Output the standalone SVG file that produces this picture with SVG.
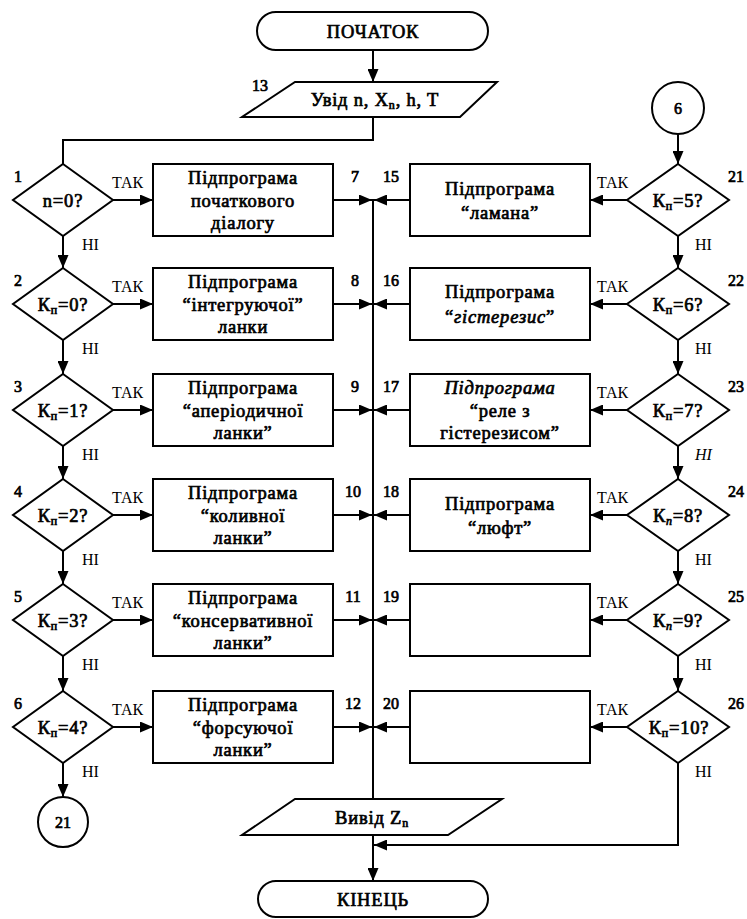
<svg xmlns="http://www.w3.org/2000/svg" width="747" height="919" viewBox="0 0 747 919">
  <defs>
    <marker id="arrow" markerUnits="userSpaceOnUse" markerWidth="13" markerHeight="11" refX="13" refY="5.5" orient="auto">
      <path d="M0,0 L13,5.5 L0,11 z" fill="#000"/>
    </marker>
    <style>
      .shape { fill: #fff; stroke: #000; stroke-width: 2; }
      .line { fill: none; stroke: #000; stroke-width: 2; }
      .arr { fill: none; stroke: #000; stroke-width: 2; marker-end: url(#arrow); }
      text { font-family: "Liberation Serif", "Times New Roman", serif; fill: #000; }
      .heavy text { font-weight: normal; stroke: #000; stroke-width: 0.7px; }
      .t { font-size: 18.5px; text-anchor: middle; letter-spacing: 0.8px; }
      .num { font-size: 16px; text-anchor: middle; }
      .lbl { font-size: 16px; }
      .sub { font-size: 12px; }
    </style>
  </defs>
  <rect width="747" height="919" fill="#fff"/>

  <!-- connectors -->
  <g id="connectors">
    <line class="arr" x1="373" y1="50" x2="373" y2="82"/>
    <polyline class="line" points="373,117 373,140 63,140 63,164"/>
    <!-- collector line -->
    <line class="line" x1="373" y1="199" x2="373" y2="799"/>
    <line class="arr" x1="373" y1="835" x2="373" y2="881"/>
    <!-- left column: decisions to subprograms -->
    <line class="arr" x1="113" y1="200" x2="153" y2="200"/>
    <line class="arr" x1="113" y1="304" x2="153" y2="304"/>
    <line class="arr" x1="113" y1="410" x2="153" y2="410"/>
    <line class="arr" x1="113" y1="515" x2="153" y2="515"/>
    <line class="arr" x1="113" y1="620" x2="153" y2="620"/>
    <line class="arr" x1="113" y1="727" x2="153" y2="727"/>
    <!-- left column: subprograms to collector -->
    <line class="arr" x1="333" y1="200" x2="372" y2="200"/>
    <line class="arr" x1="333" y1="304" x2="372" y2="304"/>
    <line class="arr" x1="333" y1="410" x2="372" y2="410"/>
    <line class="arr" x1="333" y1="515" x2="372" y2="515"/>
    <line class="arr" x1="333" y1="620" x2="372" y2="620"/>
    <line class="arr" x1="333" y1="727" x2="372" y2="727"/>
    <!-- left column: "no" branches -->
    <line class="arr" x1="63" y1="236" x2="63" y2="268"/>
    <line class="arr" x1="63" y1="340" x2="63" y2="374"/>
    <line class="arr" x1="63" y1="446" x2="63" y2="479"/>
    <line class="arr" x1="63" y1="551" x2="63" y2="584"/>
    <line class="arr" x1="63" y1="656" x2="63" y2="691"/>
    <line class="arr" x1="63" y1="763" x2="63" y2="797"/>
    <!-- right column: decisions to subprograms -->
    <line class="arr" x1="627" y1="200" x2="590" y2="200"/>
    <line class="arr" x1="627" y1="304" x2="590" y2="304"/>
    <line class="arr" x1="627" y1="410" x2="590" y2="410"/>
    <line class="arr" x1="627" y1="515" x2="590" y2="515"/>
    <line class="arr" x1="627" y1="620" x2="590" y2="620"/>
    <line class="arr" x1="627" y1="727" x2="590" y2="727"/>
    <!-- right column: subprograms to collector -->
    <line class="arr" x1="410" y1="200" x2="374" y2="200"/>
    <line class="arr" x1="410" y1="304" x2="374" y2="304"/>
    <line class="arr" x1="410" y1="410" x2="374" y2="410"/>
    <line class="arr" x1="410" y1="515" x2="374" y2="515"/>
    <line class="arr" x1="410" y1="620" x2="374" y2="620"/>
    <line class="arr" x1="410" y1="727" x2="374" y2="727"/>
    <!-- right column: "no" branches -->
    <line class="arr" x1="678" y1="134" x2="678" y2="164"/>
    <line class="arr" x1="678" y1="236" x2="678" y2="268"/>
    <line class="arr" x1="678" y1="340" x2="678" y2="374"/>
    <line class="arr" x1="678" y1="446" x2="678" y2="479"/>
    <line class="arr" x1="678" y1="551" x2="678" y2="584"/>
    <line class="arr" x1="678" y1="656" x2="678" y2="691"/>
    <polyline class="arr" points="678,763 678,845 374,845"/>

    <!-- branch labels -->
    <g class="lbl">
      <text x="112" y="188">ТАК</text>
      <text x="112" y="292">ТАК</text>
      <text x="112" y="398">ТАК</text>
      <text x="112" y="503">ТАК</text>
      <text x="112" y="608">ТАК</text>
      <text x="112" y="715">ТАК</text>
      <text x="82" y="250">НІ</text>
      <text x="82" y="354">НІ</text>
      <text x="82" y="460">НІ</text>
      <text x="82" y="565">НІ</text>
      <text x="82" y="670">НІ</text>
      <text x="82" y="777">НІ</text>
      <text x="597" y="188">ТАК</text>
      <text x="597" y="292">ТАК</text>
      <text x="597" y="398">ТАК</text>
      <text x="597" y="503">ТАК</text>
      <text x="597" y="608">ТАК</text>
      <text x="597" y="715">ТАК</text>
      <text x="695" y="250">НІ</text>
      <text x="695" y="354">НІ</text>
      <text x="695" y="460" font-style="italic">НІ</text>
      <text x="695" y="565">НІ</text>
      <text x="695" y="670">НІ</text>
      <text x="695" y="777">НІ</text>
    </g>
  </g>

  <g class="heavy">
  <!-- terminators and I/O -->
  <g id="start">
    <rect class="shape" x="257" y="12" width="231" height="38" rx="19" ry="19"/>
    <text class="t" x="373" y="38">ПОЧАТОК</text>
  </g>
  <g id="input">
    <polygon class="shape" points="295,82 497,82 460,117 242,117"/>
    <text class="num" x="260" y="91">13</text>
    <text class="t" x="375" y="106" letter-spacing="0.5">Увід n, X<tspan class="sub" dy="3">n</tspan><tspan dy="-3">, h, T</tspan></text>
  </g>
  <g id="output">
    <polygon class="shape" points="295,799 502,799 448,835 242,835"/>
    <text class="t" x="372" y="824">Вивід Z<tspan class="sub" dy="3">n</tspan></text>
  </g>
  <g id="end">
    <rect class="shape" x="258" y="881" width="230" height="36" rx="18" ry="18"/>
    <text class="t" x="373" y="906">КІНЕЦЬ</text>
  </g>

  <!-- left column decisions -->
  <g id="d1">
    <polygon class="shape" points="63,164 113,200 63,236 13,200"/>
    <text class="num" x="18" y="182">1</text>
    <text class="t" x="63" y="207">n=0?</text>
  </g>
  <g id="d2">
    <polygon class="shape" points="63,268 113,304 63,340 13,304"/>
    <text class="num" x="18" y="286">2</text>
    <text class="t" x="63" y="311">К<tspan class="sub" dy="3">п</tspan><tspan dy="-3">=0?</tspan></text>
  </g>
  <g id="d3">
    <polygon class="shape" points="63,374 113,410 63,446 13,410"/>
    <text class="num" x="18" y="392">3</text>
    <text class="t" x="63" y="417">К<tspan class="sub" dy="3">п</tspan><tspan dy="-3">=1?</tspan></text>
  </g>
  <g id="d4">
    <polygon class="shape" points="63,479 113,515 63,551 13,515"/>
    <text class="num" x="18" y="497">4</text>
    <text class="t" x="63" y="522">К<tspan class="sub" dy="3">п</tspan><tspan dy="-3">=2?</tspan></text>
  </g>
  <g id="d5">
    <polygon class="shape" points="63,584 113,620 63,656 13,620"/>
    <text class="num" x="18" y="602">5</text>
    <text class="t" x="63" y="627">К<tspan class="sub" dy="3">п</tspan><tspan dy="-3">=3?</tspan></text>
  </g>
  <g id="d6">
    <polygon class="shape" points="63,691 113,727 63,763 13,727"/>
    <text class="num" x="18" y="709">6</text>
    <text class="t" x="63" y="734">К<tspan class="sub" dy="3">п</tspan><tspan dy="-3">=4?</tspan></text>
  </g>
  <g id="c21">
    <circle class="shape" cx="63" cy="822" r="25"/>
    <text class="num" x="63" y="828" font-size="17">21</text>
  </g>

  <!-- left column subprograms -->
  <g id="b7">
    <rect class="shape" x="153" y="164" width="180" height="72"/>
    <text class="num" x="355" y="182">7</text>
    <text class="t" x="243" y="184">Підпрограма</text>
    <text class="t" x="243" y="207">початкового</text>
    <text class="t" x="243" y="229">діалогу</text>
  </g>
  <g id="b8">
    <rect class="shape" x="153" y="268" width="180" height="72"/>
    <text class="num" x="355" y="286">8</text>
    <text class="t" x="243" y="288">Підпрограма</text>
    <text class="t" x="243" y="311">“інтегруючої”</text>
    <text class="t" x="243" y="333">ланки</text>
  </g>
  <g id="b9">
    <rect class="shape" x="153" y="374" width="180" height="72"/>
    <text class="num" x="355" y="392">9</text>
    <text class="t" x="243" y="394">Підпрограма</text>
    <text class="t" x="243" y="417">“аперіодичної</text>
    <text class="t" x="243" y="439">ланки”</text>
  </g>
  <g id="b10">
    <rect class="shape" x="153" y="479" width="180" height="72"/>
    <text class="num" x="353" y="497">10</text>
    <text class="t" x="243" y="499">Підпрограма</text>
    <text class="t" x="243" y="522">“коливної</text>
    <text class="t" x="243" y="544">ланки”</text>
  </g>
  <g id="b11">
    <rect class="shape" x="153" y="584" width="180" height="72"/>
    <text class="num" x="353" y="602">11</text>
    <text class="t" x="243" y="604">Підпрограма</text>
    <text class="t" x="243" y="627">“консервативної</text>
    <text class="t" x="243" y="649">ланки”</text>
  </g>
  <g id="b12">
    <rect class="shape" x="153" y="691" width="180" height="72"/>
    <text class="num" x="353" y="709">12</text>
    <text class="t" x="243" y="711">Підпрограма</text>
    <text class="t" x="243" y="734">“форсуючої</text>
    <text class="t" x="243" y="756">ланки”</text>
  </g>

  <!-- right column -->
  <g id="c6">
    <circle class="shape" cx="678" cy="108" r="26"/>
    <text class="num" x="678" y="114" font-size="18">6</text>
  </g>
  <g id="d21">
    <polygon class="shape" points="678,164 729,200 678,236 627,200"/>
    <text class="num" x="736" y="182">21</text>
    <text class="t" x="678" y="207">К<tspan class="sub" dy="3">п</tspan><tspan dy="-3">=5?</tspan></text>
  </g>
  <g id="d22">
    <polygon class="shape" points="678,268 729,304 678,340 627,304"/>
    <text class="num" x="736" y="286">22</text>
    <text class="t" x="678" y="311">К<tspan class="sub" dy="3">п</tspan><tspan dy="-3">=6?</tspan></text>
  </g>
  <g id="d23">
    <polygon class="shape" points="678,374 729,410 678,446 627,410"/>
    <text class="num" x="736" y="392">23</text>
    <text class="t" x="678" y="417">К<tspan class="sub" dy="3">п</tspan><tspan dy="-3">=7?</tspan></text>
  </g>
  <g id="d24">
    <polygon class="shape" points="678,479 729,515 678,551 627,515"/>
    <text class="num" x="736" y="497">24</text>
    <text class="t" x="678" y="522">К<tspan class="sub" dy="3" font-style="italic">n</tspan><tspan dy="-3">=8?</tspan></text>
  </g>
  <g id="d25">
    <polygon class="shape" points="678,584 729,620 678,656 627,620"/>
    <text class="num" x="736" y="602">25</text>
    <text class="t" x="678" y="627">К<tspan class="sub" dy="3" font-style="italic">n</tspan><tspan dy="-3">=9?</tspan></text>
  </g>
  <g id="d26">
    <polygon class="shape" points="678,691 729,727 678,763 627,727"/>
    <text class="num" x="736" y="709">26</text>
    <text class="t" x="679" y="734">К<tspan class="sub" dy="3">п</tspan><tspan dy="-3">=10?</tspan></text>
  </g>

  <g id="b15">
    <rect class="shape" x="410" y="164" width="180" height="72"/>
    <text class="num" x="391" y="182">15</text>
    <text class="t" x="500" y="195">Підпрограма</text>
    <text class="t" x="500" y="219">“ламана”</text>
  </g>
  <g id="b16">
    <rect class="shape" x="410" y="268" width="180" height="72"/>
    <text class="num" x="391" y="286">16</text>
    <text class="t" x="500" y="298">Підпрограма</text>
    <text class="t" x="500" y="323"><tspan>“</tspan><tspan font-style="italic">гістерезис</tspan><tspan>”</tspan></text>
  </g>
  <g id="b17">
    <rect class="shape" x="410" y="374" width="180" height="72"/>
    <text class="num" x="391" y="392">17</text>
    <text class="t" x="500" y="394" font-style="italic">Підпрограма</text>
    <text class="t" x="500" y="417">“реле з</text>
    <text class="t" x="500" y="439">гістерезисом”</text>
  </g>
  <g id="b18">
    <rect class="shape" x="410" y="479" width="180" height="72"/>
    <text class="num" x="391" y="497">18</text>
    <text class="t" x="500" y="510">Підпрограма</text>
    <text class="t" x="500" y="534">“люфт”</text>
  </g>
  <g id="b19">
    <rect class="shape" x="410" y="584" width="180" height="72"/>
    <text class="num" x="391" y="602">19</text>
  </g>
  <g id="b20">
    <rect class="shape" x="410" y="691" width="180" height="72"/>
    <text class="num" x="391" y="709">20</text>
  </g>
  </g>
</svg>
